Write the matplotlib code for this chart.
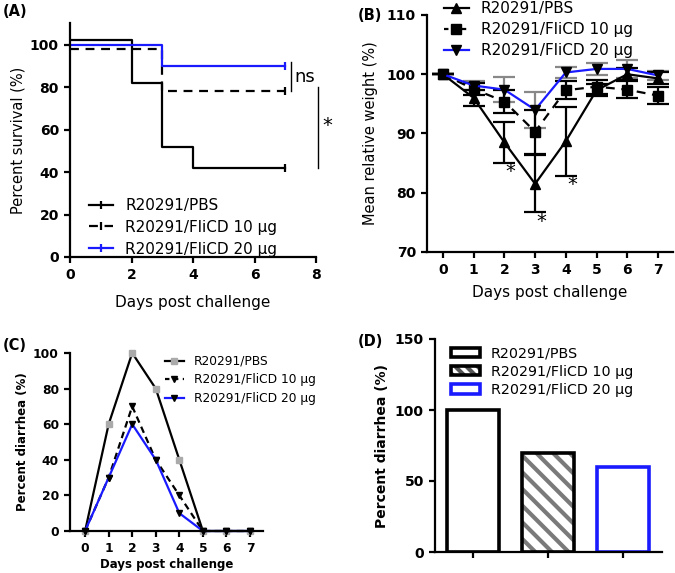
import matplotlib
matplotlib.use("Agg")
import matplotlib.pyplot as plt
from matplotlib.lines import Line2D
from matplotlib.patches import Patch
from matplotlib.legend_handler import HandlerTuple

plt.rcParams['font.family'] = ['DejaVu Sans']
plt.rcParams['hatch.linewidth'] = 3.0

groups = ["R20291/PBS", "R20291/FliCD 10 \u03bcg", "R20291/FliCD 20 \u03bcg"]

# (A) survival
surv_days_pbs = [0, 2, 3, 4, 7]
surv_pbs = [100, 80, 50, 40, 40]
surv_days_10 = [0, 3, 7]
surv_10 = [100, 80, 80]
surv_days_20 = [0, 3, 7]
surv_20 = [100, 90, 90]

# (B) weight
days_b = [0, 1, 2, 3, 4, 5, 6, 7]
w_pbs = [100, 96.0, 88.5, 81.5, 88.7, 97.3, 100.0, 99.3]
w_pbs_err = [0, 1.3, 3.4, 4.8, 5.8, 1.0, 1.0, 1.0]
w_10 = [100, 97.5, 95.4, 90.3, 97.3, 97.9, 97.4, 96.4]
w_10_err = [0, 1.0, 2.0, 3.7, 1.5, 1.2, 1.4, 1.4]
w_20 = [100, 98.1, 97.4, 94.0, 100.3, 100.9, 100.9, 99.8]
w_20_err = [0, 0.8, 2.1, 3.0, 1.0, 1.0, 1.5, 0.8]
sig_days = [2, 3, 4]

# (C) diarrhea over time
days_c = [0, 1, 2, 3, 4, 5, 6, 7]
d_pbs = [0, 60, 100, 80, 40, 0, 0, 0]
d_10 = [0, 30, 70, 40, 20, 0, 0, 0]
d_20 = [0, 30, 60, 40, 10, 0, 0, 0]

# (D) overall diarrhea
d_total = [100, 70, 60]

BLUE = '#1a1aff'
W, H = 675, 573
fig = plt.figure(figsize=(W / 100, H / 100), dpi=100)

def style(ax, fs):
    for s in ['top', 'right']:
        ax.spines[s].set_visible(False)
    for s in ['left', 'bottom']:
        ax.spines[s].set_linewidth(1.6)
    ax.tick_params(width=1.6, length=4.5, labelsize=fs, colors='black')
    for lab in ax.get_xticklabels() + ax.get_yticklabels():
        lab.set_fontweight('bold')

# ---------- A ----------
axA = fig.add_axes([70 / W, 1 - 257 / H, 246 / W, 234 / H])
lA = []
for d, s, off, col, ls in [(surv_days_pbs, surv_pbs, 2, 'black', '-'),
                            (surv_days_10, surv_10, -2, 'black', (0, (4, 3))),
                            (surv_days_20, surv_20, 0, BLUE, '-')]:
    yy = [v + off for v in s]
    axA.step(d, yy, where='post', color=col, lw=1.6, ls=ls)
    axA.plot([d[-1]], [yy[-1]], marker='|', ms=6, mew=1.6, color=col)
    lA.append(Line2D([], [], color=col, lw=1.6, ls=ls, marker='|', ms=6, mew=1.6))
axA.set_xlim(0, 8)
axA.set_ylim(0, 110.2)
axA.set_xticks([0, 2, 4, 6, 8])
axA.set_yticks([0, 20, 40, 60, 80, 100])
style(axA, 10)
axA.set_ylabel("Percent survival (%)", fontsize=10.5, labelpad=3)
axA.set_xlabel("Days post challenge", fontsize=11, labelpad=9)
axA.legend(lA, groups, loc='lower left', bbox_to_anchor=(0.07, -0.005),
           frameon=False, fontsize=11, handlelength=1.6, handletextpad=0.8,
           labelspacing=0.45, borderpad=0.1, borderaxespad=0)
# significance bars
axA.plot([7.2, 7.2], [surv_20[-1] + 2, surv_10[-1] - 2], color='black', lw=1, clip_on=False)
axA.text(7.3, (surv_20[-1] + surv_10[-1]) / 2, "ns", fontsize=13, va='center', ha='left')
axA.plot([8.05, 8.05], [surv_10[-1], surv_pbs[-1] + 2], color='black', lw=1, clip_on=False)
axA.text(8.2, (surv_10[-1] + surv_pbs[-1]) / 2 + 2, "*", fontsize=14, va='center', ha='left')

# ---------- B ----------
axB = fig.add_axes([427 / W, 1 - 252 / H, 246 / W, 237 / H])
axB.errorbar(days_b, w_20, yerr=w_20_err, fmt='none', ecolor='#888888', elinewidth=1.6,
             capsize=8, capthick=1.6, zorder=1)
axB.errorbar(days_b, w_10, yerr=w_10_err, fmt='none', ecolor='black', elinewidth=1.6,
             capsize=8, capthick=1.6, zorder=2)
axB.errorbar(days_b, w_pbs, yerr=w_pbs_err, fmt='none', ecolor='black', elinewidth=1.6,
             capsize=8, capthick=1.6, zorder=2)
axB.plot(days_b, w_pbs, color='black', lw=1.6, marker='^', ms=7, zorder=3, clip_on=False)
axB.plot(days_b, w_10, color='black', lw=1.6, ls=(0, (4, 3)), marker='s', ms=7, zorder=3, clip_on=False)
axB.plot(days_b, w_20, color=BLUE, lw=1.6, marker='v', ms=7, mfc='black', mec='black', zorder=4, clip_on=False)
for dd in sig_days:
    i = days_b.index(dd)
    axB.text(dd + 0.2, w_pbs[i] - w_pbs_err[i] - 1.5, "*", fontsize=14, ha='center', va='center')
axB.set_xlim(-0.52, 7.49)
axB.set_ylim(70, 110)
axB.set_xticks(days_b)
axB.set_yticks([70, 80, 90, 100, 110])
style(axB, 10)
axB.set_ylabel("Mean relative weight (%)", fontsize=10.5, labelpad=6)
axB.set_xlabel("Days post challenge", fontsize=11, labelpad=6)
lB = [Line2D([], [], color='black', lw=1.6, marker='^', ms=7),
      Line2D([], [], color='black', lw=1.6, ls=(0, (2, 2)), marker='s', ms=7),
      Line2D([], [], color=BLUE, lw=1.6, marker='v', ms=7, mfc='black', mec='black')]
axB.legend(lB, groups, loc='upper left', bbox_to_anchor=(0.07, 1.058),
           frameon=False, fontsize=11, handlelength=1.6, handletextpad=0.8,
           labelspacing=0.38, borderpad=0.0, borderaxespad=0)

# ---------- C ----------
axC = fig.add_axes([70 / W, 1 - 531 / H, 193 / W, 178 / H])
axC.plot(days_c, d_pbs, color='black', lw=1.6, marker='s', ms=4, mfc='#aaaaaa', mec='#aaaaaa', clip_on=False)
axC.plot(days_c, d_10, color='black', lw=1.6, ls=(0, (3, 2)), marker='v', ms=4, clip_on=False)
axC.plot(days_c, d_20, color=BLUE, lw=1.6, marker='v', ms=4, mfc='black', mec='black', clip_on=False)
axC.set_xlim(-0.64, 7.55)
axC.set_ylim(0, 100)
axC.set_xticks(days_c)
axC.set_yticks([0, 20, 40, 60, 80, 100])
style(axC, 8.8)
axC.set_ylabel("Percent diarrhea (%)", fontsize=8.5, fontweight='bold', labelpad=3)
axC.set_xlabel("Days post challenge", fontsize=8.5, fontweight='bold', labelpad=2)
lC = [Line2D([], [], color='black', lw=1.6, marker='s', ms=4, mfc='#aaaaaa', mec='#aaaaaa'),
      Line2D([], [], color='black', lw=1.6, ls=(0, (2, 2)), marker='v', ms=4),
      Line2D([], [], color=BLUE, lw=1.6, marker='v', ms=4, mfc='black', mec='black')]
axC.legend(lC, groups, loc='upper left', bbox_to_anchor=(0.49, 0.99),
           frameon=False, fontsize=8.8, handlelength=1.6, handletextpad=0.8,
           labelspacing=0.45, borderpad=0.0, borderaxespad=0)

# ---------- D ----------
axD = fig.add_axes([435 / W, 1 - 552 / H, 227 / W, 213 / H])
xD = list(range(len(d_total)))
edge_cols = ['black', 'black', BLUE]
hatches = ['', '\\\\', '']
hb = axD.bar(xD, d_total, width=0.69, color='white', edgecolor=['white', '#7a7a7a', 'white'],
             linewidth=0)
for p, h in zip(hb, hatches):
    p.set_hatch(h)
axD.bar(xD, d_total, width=0.69, color='none', edgecolor=edge_cols, linewidth=2.6)
axD.set_xlim(-0.5, 2.52)
axD.set_ylim(0, 150)
axD.set_xticks(xD)
axD.set_xticklabels([])
axD.set_yticks([0, 50, 100, 150])
style(axD, 10)
axD.set_ylabel("Percent diarrhea (%)", fontsize=10, fontweight='bold', labelpad=4)
lD = [(Patch(facecolor='white', edgecolor='black', lw=2.6),),
      (Patch(facecolor='white', edgecolor='#555555', hatch='\\\\\\', lw=0),
       Patch(facecolor='none', edgecolor='black', lw=2.6)),
      (Patch(facecolor='white', edgecolor=BLUE, lw=2.6),)]
axD.legend(lD, groups, loc='upper left', bbox_to_anchor=(0.07, 0.965),
           frameon=False, fontsize=10.3, handlelength=2.0, handleheight=0.6,
           handletextpad=0.8, labelspacing=0.3, borderpad=0.0, borderaxespad=0,
           handler_map={tuple: HandlerTuple(ndivide=1)})

# panel labels
fig.text(3 / W, 1 - 12 / H, "(A)", fontsize=10.5, fontweight='bold', va='center', ha='left')
fig.text(358 / W, 1 - 15 / H, "(B)", fontsize=10.5, fontweight='bold', va='center', ha='left')
fig.text(3 / W, 1 - 345 / H, "(C)", fontsize=10.5, fontweight='bold', va='center', ha='left')
fig.text(358 / W, 1 - 342 / H, "(D)", fontsize=10.5, fontweight='bold', va='center', ha='left')

fig.savefig("out.png", dpi=100)
